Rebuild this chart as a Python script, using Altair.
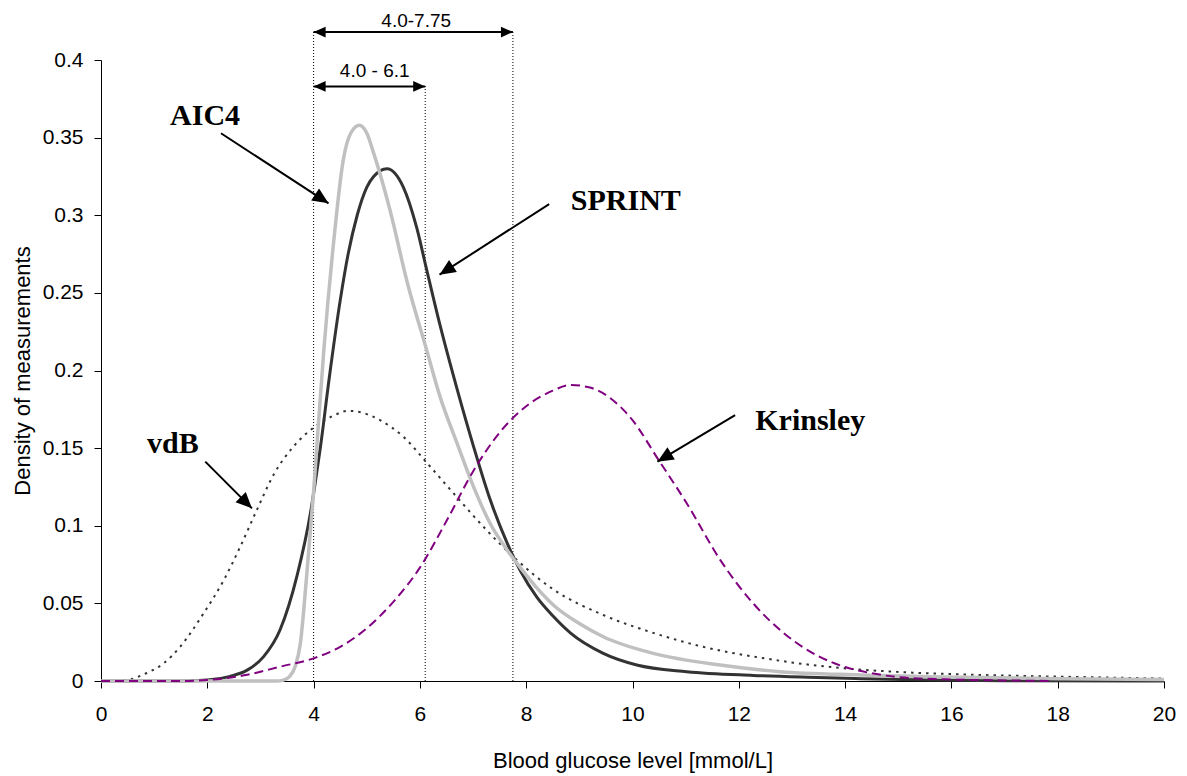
import math
import altair as alt
import pandas as pd

# ---------------- data ----------------
sprint_x = [0, 1.5, 2.0, 2.43, 2.75, 3.06, 3.37, 3.69, 3.94, 4.03, 4.13, 4.29, 4.50, 4.65, 4.82, 5.0,
            5.13, 5.38, 5.69, 5.94, 6.12, 6.38, 6.70, 7.01, 7.32, 7.64, 7.89, 8.20, 8.5, 8.83, 9.45,
            10.08, 11.02, 12.27, 13.3, 14.3, 15.6, 17.0, 20.0]
sprint_y = [0, 0, 0.0006, 0.003, 0.007, 0.0157, 0.033, 0.068, 0.108, 0.1275, 0.151, 0.194, 0.245,
            0.275, 0.300, 0.318, 0.325, 0.330, 0.318, 0.292, 0.266, 0.229, 0.188, 0.151, 0.117,
            0.089, 0.071, 0.054, 0.042, 0.031, 0.0178, 0.0103, 0.006, 0.0036, 0.0024, 0.0015,
            0.0006, 0.0002, 0]

aic4_x = [0, 3.3, 3.43, 3.55, 3.65, 3.75, 3.87, 4.0, 4.1, 4.19, 4.375, 4.56, 4.70, 4.86, 5.0, 5.13,
          5.44, 5.76, 6.12, 6.38, 6.70, 7.01, 7.32, 7.64, 7.89, 8.2, 8.51, 9.0, 9.45, 10.39, 11.65,
          12.78, 14.3, 16.2, 18.05, 20]
aic4_y = [0, 0, 0.0006, 0.003, 0.009, 0.024, 0.068, 0.122, 0.17, 0.212, 0.282, 0.336, 0.353, 0.358,
          0.353, 0.340, 0.303, 0.257, 0.214, 0.183, 0.153, 0.125, 0.1016, 0.0844, 0.073, 0.060,
          0.049, 0.037, 0.0285, 0.0178, 0.0103, 0.006, 0.0039, 0.0024, 0.0015, 0.001]

vdb_x = [0, 0.3, 0.55, 0.85, 1.18, 1.49, 1.93, 2.31, 2.62, 2.93, 3.25, 3.62, 4.03, 4.35, 4.65, 4.95,
         5.25, 5.7, 6.12, 6.63, 7.26, 7.79, 8.51, 9.45, 10.39, 11.33, 12.5, 13.03, 13.97, 14.91,
         16.16, 17.42, 18.67, 20]
vdb_y = [0, 0, 0.001, 0.005, 0.0114, 0.0221, 0.0436, 0.065, 0.0865, 0.110, 0.133, 0.151, 0.164,
         0.1705, 0.174, 0.1725, 0.168, 0.157, 0.141, 0.121, 0.097, 0.079, 0.059, 0.0425, 0.031,
         0.022, 0.0145, 0.0118, 0.0082, 0.006, 0.0043, 0.0032, 0.0024, 0.0016]

krinsley_x = [0, 1.5, 1.99, 2.75, 3.37, 4.0, 4.5, 5.0, 5.5, 6.0, 6.5, 7.0, 7.5, 8.0, 8.5, 8.83, 9.2,
              9.77, 10.0, 10.49, 11.02, 11.65, 12.27, 12.84, 13.5, 14.0, 14.5, 15.0, 15.85, 16.8,
              17.9]
krinsley_y = [0, 0, 0.0006, 0.004, 0.0092, 0.0146, 0.022, 0.034, 0.051, 0.073, 0.103, 0.135, 0.160,
              0.177, 0.187, 0.1907, 0.189, 0.1767, 0.168, 0.1424, 0.1145, 0.078, 0.050, 0.031,
              0.016, 0.009, 0.005, 0.0025, 0.0011, 0.0005, 0]

# vertical reference lines (range bounds)
ref_x = [4.0, 6.1, 7.75]
ref_top = [0.418, 0.384, 0.418]

# range (dimension) arrows
dim_x1 = [4.0, 4.0]
dim_x2 = [7.75, 6.1]
dim_y = [0.418, 0.383]
dim_text = ["4.0-7.75", "4.0 - 6.1"]
dim_text_x = [5.93, 5.15]
dim_text_y = [0.4211, 0.3892]

# curve labels and pointer arrows
lab_text = ["AIC4", "SPRINT", "vdB", "Krinsley"]
lab_x = [1.30, 8.84, 0.865, 12.31]
lab_y = [0.358, 0.3034, 0.1467, 0.1617]
ptr_x1 = [2.257, 8.432, 1.962, 11.931]
ptr_y1 = [0.3528, 0.3072, 0.1413, 0.1713]
ptr_x2 = [4.281, 6.369, 2.840, 10.469]
ptr_y2 = [0.3077, 0.2617, 0.1112, 0.1413]

x_ticks = [0, 2, 4, 6, 8, 10, 12, 14, 16, 18, 20]
y_ticks = [0, 0.05, 0.1, 0.15, 0.2, 0.25, 0.3, 0.35, 0.4]

# ---------------- chart ----------------
W, H = 1063, 621
XMAX, YMAX = 20, 0.4
AX = W / XMAX
AY = H / YMAX

xs = alt.Scale(domain=[0, XMAX], nice=False, zero=False)
ys = alt.Scale(domain=[0, YMAX], nice=False, zero=False)

X = alt.X("x:Q", scale=xs, title="Blood glucose level [mmol/L]",
          axis=alt.Axis(values=x_ticks, format="~g", labelPadding=15, labelFlush=False,
                        labelOverlap=False, titleY=86, titleBaseline="alphabetic"))
Y = alt.Y("y:Q", scale=ys, title="Density of measurements",
          axis=alt.Axis(values=y_ticks, format="~g", labelPadding=11, labelOverlap=False,
                        titleX=-72, titleBaseline="alphabetic"))

layers = []

ref_df = pd.DataFrame({"x": ref_x, "y": [0] * len(ref_x), "y2": ref_top})
layers.append(alt.Chart(ref_df).mark_rule(color="black", strokeWidth=1, strokeDash=[1, 2]).encode(
    x=X, y=Y, y2="y2:Q"))

curves = [
    (vdb_x, vdb_y, dict(color="#333333", strokeWidth=2, strokeDash=[2.5, 5])),
    (sprint_x, sprint_y, dict(color="#333333", strokeWidth=3)),
    (aic4_x, aic4_y, dict(color="#c0c0c0", strokeWidth=3.5)),
    (krinsley_x, krinsley_y, dict(color="#800080", strokeWidth=2, strokeDash=[9, 5])),
]
for cx, cy, style in curves:
    df = pd.DataFrame({"x": cx, "y": cy})
    layers.append(alt.Chart(df).mark_line(interpolate="monotone", **style).encode(x=X, y=Y))

HEAD = "M0,0L-0.45,1L0.45,1Z"

def head_angle(x1, y1, x2, y2):
    dx = (x2 - x1) * AX
    dy = -(y2 - y1) * AY
    return (math.degrees(math.atan2(dx, -dy)) + 360) % 360

# dimension arrows
dim_df = pd.DataFrame({"x": dim_x1, "x2": dim_x2, "y": dim_y})
layers.append(alt.Chart(dim_df).mark_rule(color="black", strokeWidth=2).encode(
    x=X, x2="x2:Q", y=Y))
dim_heads = pd.DataFrame({
    "x": dim_x1 + dim_x2,
    "y": dim_y + dim_y,
    "a": [270] * len(dim_x1) + [90] * len(dim_x2),
})
layers.append(alt.Chart(dim_heads).mark_point(shape=HEAD, size=576, filled=True, color="black",
                                              opacity=1, strokeWidth=0).encode(
    x=X, y=Y, angle=alt.Angle("a:Q", scale=None)))
dim_lab = pd.DataFrame({"x": dim_text_x, "y": dim_text_y, "t": dim_text})
layers.append(alt.Chart(dim_lab).mark_text(font="Liberation Sans", fontSize=19, color="black",
                                           align="center", baseline="alphabetic").encode(
    x=X, y=Y, text="t:N"))

# pointer arrows
ptr_df = pd.DataFrame({"x": ptr_x1, "y": ptr_y1, "x2": ptr_x2, "y2": ptr_y2})
layers.append(alt.Chart(ptr_df).mark_rule(color="black", strokeWidth=2).encode(
    x=X, y=Y, x2="x2:Q", y2="y2:Q"))
ptr_heads = pd.DataFrame({
    "x": ptr_x2, "y": ptr_y2,
    "a": [head_angle(a, b, c, d) for a, b, c, d in zip(ptr_x1, ptr_y1, ptr_x2, ptr_y2)],
})
layers.append(alt.Chart(ptr_heads).mark_point(shape=HEAD, size=1024, filled=True, color="black",
                                              opacity=1, strokeWidth=0).encode(
    x=X, y=Y, angle=alt.Angle("a:Q", scale=None)))

lab_df = pd.DataFrame({"x": lab_x, "y": lab_y, "t": lab_text})
layers.append(alt.Chart(lab_df).mark_text(font="Liberation Serif", fontWeight="bold", fontSize=30,
                                          color="black", align="left", baseline="alphabetic").encode(
    x=X, y=Y, text="t:N"))

chart = alt.layer(*layers).properties(
    width=W, height=H,
    padding={"left": 93, "top": 52, "right": 15, "bottom": 95},
    autosize=alt.AutoSizeParams(type="none"),
).configure_view(strokeWidth=0).configure_axis(
    grid=False, domainColor="black", tickColor="black", labelColor="black", titleColor="black",
    labelFont="Liberation Sans", titleFont="Liberation Sans", labelFontSize=21, titleFontSize=22,
    titleFontWeight="normal", tickSize=7, domainWidth=1, tickWidth=1,
)

chart.save("out.html", embed_options={"renderer": "svg", "actions": False})
